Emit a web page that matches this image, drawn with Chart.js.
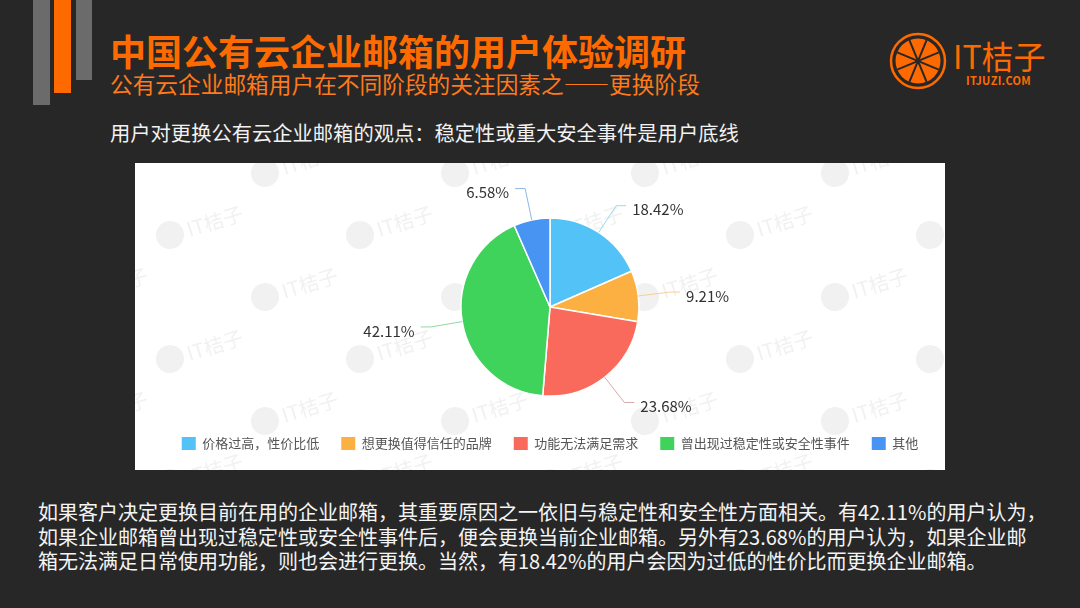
<!DOCTYPE html>
<html lang="zh-CN">
<head>
<meta charset="utf-8">
<title>中国公有云企业邮箱的用户体验调研</title>
<script src="https://cdn.jsdelivr.net/npm/chart.js@4.4.1/dist/chart.umd.min.js"></script>
<style>
  html, body { margin: 0; padding: 0; }
  body {
    width: 1080px; height: 608px; position: relative; overflow: hidden;
    background: #272727;
    font-family: "Noto Sans CJK SC", "Noto Sans", sans-serif;
  }
  .bar { position: absolute; top: 0; }
  .bar-g1 { left: 33px; width: 17px; height: 105px; background: #6b6b6b; }
  .bar-o  { left: 54px; width: 17px; height: 93px;  background: #ff6a00; }
  .bar-g2 { left: 76px; width: 16px; height: 80px;  background: #6b6b6b; }

  .title {
    position: absolute; left: 110px; top: 32px;
    font-size: 36px; line-height: 36px; font-weight: 700;
    color: #ff6a00; white-space: nowrap;
  }
  .subtitle {
    position: absolute; left: 110px; top: 72px;
    font-size: 22.7px; line-height: 23px;
    color: #ff7a1a; white-space: nowrap;
  }
  .heading {
    position: absolute; left: 110px; top: 122px;
    font-size: 20.3px; line-height: 20px;
    color: #f2f2f2; white-space: nowrap;
  }
  .panel {
    position: absolute; left: 135px; top: 163px;
    width: 810px; height: 307px; background: #fff;
  }
  .summary {
    position: absolute; left: 38px; top: 500px;
    font-size: 20px; line-height: 24.7px; color: #f4f4f4;
  }
  .summary div { white-space: nowrap; }

  .logo-mark { position: absolute; left: 889px; top: 32px; }
  .logo-name {
    position: absolute; left: 953px; top: 39px;
    font-size: 32px; line-height: 32px; color: #ff6a00; white-space: nowrap;
  }
  .logo-url {
    position: absolute; left: 966px; top: 75px;
    font-size: 11px; line-height: 11px; font-weight: 700; letter-spacing: 0.3px;
    color: #ff6a00; white-space: nowrap;
  }
</style>
</head>
<body>
  <div class="bar bar-g1"></div>
  <div class="bar bar-o"></div>
  <div class="bar bar-g2"></div>

  <div class="title">中国公有云企业邮箱的用户体验调研</div>
  <div class="subtitle">公有云企业邮箱用户在不同阶段的关注因素之——更换阶段</div>
  <div class="heading">用户对更换公有云企业邮箱的观点：稳定性或重大安全事件是用户底线</div>

  <svg class="logo-mark" width="58" height="58" viewBox="0 0 58 58">
    <circle cx="29" cy="29" r="27" fill="none" stroke="#ff6a00" stroke-width="2.5"/>
    <circle cx="29" cy="29" r="22.5" fill="#ff6a00"/>
    <g stroke="#272727" stroke-width="2">
      <line x1="20.4" y1="8.2" x2="37.6" y2="49.8"/>
      <line x1="49.8" y1="20.4" x2="8.2" y2="37.6"/>
      <line x1="37.6" y1="8.2" x2="20.4" y2="49.8"/>
      <line x1="49.8" y1="37.6" x2="8.2" y2="20.4"/>
    </g>
  </svg>
  <div class="logo-name">IT桔子</div>
  <div class="logo-url">ITJUZI.COM</div>

  <div class="panel"><canvas id="share-chart" width="810" height="307"></canvas></div>

  <div class="summary">
    <div>如果客户决定更换目前在用的企业邮箱，其重要原因之一依旧与稳定性和安全性方面相关。有42.11%的用户认为，</div>
    <div>如果企业邮箱曾出现过稳定性或安全性事件后，便会更换当前企业邮箱。另外有23.68%的用户认为，如果企业邮</div>
    <div>箱无法满足日常使用功能，则也会进行更换。当然，有18.42%的用户会因为过低的性价比而更换企业邮箱。</div>
  </div>

<script>
// reasons for switching mailbox, clockwise from 12 o'clock
const categories = ['价格过高，性价比低', '想更换值得信任的品牌', '功能无法满足需求', '曾出现过稳定性或安全性事件', '其他'];
const shares = [18.42, 9.21, 23.68, 42.11, 6.58];
const sliceColors = ['#52c2f7', '#fcb042', '#fa6a5c', '#40d35c', '#4894f2'];
const lineColors = ['#9fd8ee', '#f5cf98', '#d8a8a8', '#8fd9a0', '#8fb6e6'];

const FONT = '"Noto Sans CJK SC", "Noto Sans", sans-serif';

// faint "IT桔子" watermark behind the pie
const watermark = {
  id: 'watermark',
  beforeDraw(chart) {
    const { ctx, width, height } = chart;
    ctx.save();
    ctx.fillStyle = '#f1f1f1';
    ctx.strokeStyle = '#f1f1f1';
    ctx.font = '20px ' + FONT;
    ctx.textBaseline = 'middle';
    let row = 0;
    for (let y = 10; y < height + 40; y += 62) {
      const shift = (row % 2) * 95 - 60;
      for (let x = shift; x < width + 60; x += 190) {
        ctx.save();
        ctx.translate(x, y);
        ctx.rotate(-0.3);
        ctx.beginPath();
        ctx.arc(0, 0, 14, 0, Math.PI * 2);
        ctx.fill();
        ctx.fillText('IT桔子', 18, 0);
        ctx.restore();
      }
      row++;
    }
    ctx.restore();
  }
};

// percentage labels with leader lines outside each slice
const sliceLabels = {
  id: 'sliceLabels',
  afterDatasetsDraw(chart) {
    const { ctx } = chart;
    const meta = chart.getDatasetMeta(0);
    ctx.save();
    ctx.font = '15px ' + FONT;
    ctx.textBaseline = 'middle';
    ctx.fillStyle = '#333';
    ctx.lineWidth = 1;
    meta.data.forEach((arc, i) => {
      const { x, y, startAngle, endAngle, outerRadius } =
        arc.getProps(['x', 'y', 'startAngle', 'endAngle', 'outerRadius'], true);
      const mid = (startAngle + endAngle) / 2;
      const cos = Math.cos(mid), sin = Math.sin(mid);
      const x0 = x + cos * outerRadius, y0 = y + sin * outerRadius;
      const x1 = x + cos * (outerRadius + 32), y1 = y + sin * (outerRadius + 32);
      const dir = cos >= 0 ? 1 : -1;
      const x2 = x1 + dir * 10;
      ctx.strokeStyle = lineColors[i];
      ctx.beginPath();
      ctx.moveTo(x0, y0);
      ctx.lineTo(x1, y1);
      ctx.lineTo(x2, y1);
      ctx.stroke();
      ctx.textAlign = dir > 0 ? 'left' : 'right';
      ctx.fillText(shares[i].toFixed(2) + '%', x2 + dir * 6, y1 + 4);
    });
    ctx.restore();
  }
};

new Chart(document.getElementById('share-chart'), {
  type: 'pie',
  data: {
    labels: categories,
    datasets: [{
      data: shares,
      backgroundColor: sliceColors,
      borderColor: '#ffffff',
      borderWidth: 1.5
    }]
  },
  options: {
    responsive: false,
    animation: false,
    devicePixelRatio: 1,
    radius: 89,
    layout: { padding: { top: 36, bottom: 10, left: 20, right: 0 } },
    plugins: {
      legend: {
        position: 'bottom',
        labels: {
          boxWidth: 14,
          boxHeight: 13,
          padding: 22,
          color: '#555',
          font: { size: 13, family: FONT },
          generateLabels: (chart) =>
            Chart.overrides.pie.plugins.legend.labels.generateLabels(chart)
              .map(item => ({ ...item, lineWidth: 0 }))
        }
      },
      tooltip: { enabled: false }
    }
  },
  plugins: [watermark, sliceLabels]
});
</script>
</body>
</html>
